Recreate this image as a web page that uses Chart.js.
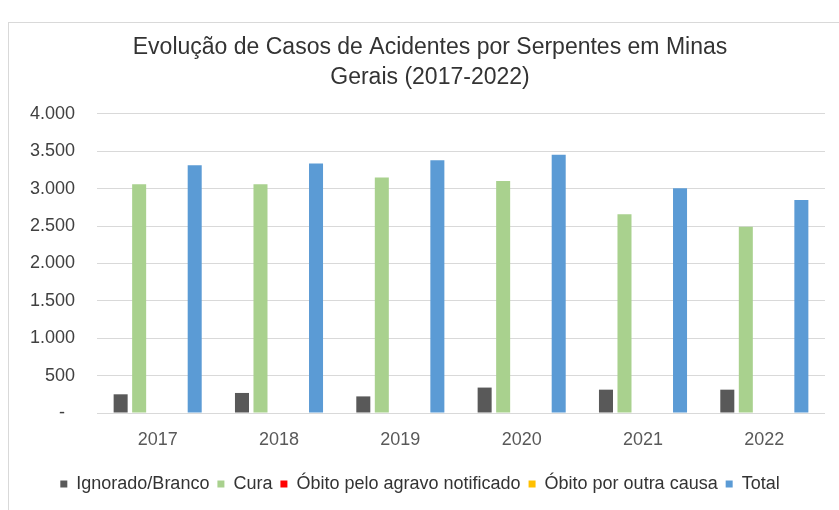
<!DOCTYPE html>
<html lang="pt-BR">
<head>
<meta charset="utf-8">
<title>Acidentes por Serpentes - MG</title>
<script src="https://cdn.jsdelivr.net/npm/chart.js@4.4.1/dist/chart.umd.min.js"></script>
<style>
    html, body { margin: 0; padding: 0; background: #fff; }
    #wrap { position: relative; width: 839px; height: 510px; overflow: hidden; }
    /* moldura do gráfico (Excel) */
    #frame { position: absolute; left: 8px; top: 22px; width: 900px; height: 600px;
             border-left: 1px solid #d9d9d9; border-top: 1px solid #d9d9d9; }
    #grafico { position: absolute; left: 0; top: 0; }
</style>
</head>
<body>
<div id="wrap">
    <div id="frame"></div>
    <canvas id="grafico" width="839" height="510"></canvas>
</div>
<script>
// Dados
const anos = ['2017', '2018', '2019', '2020', '2021', '2022'];
const ignorado = [250, 268, 222, 340, 312, 312];
const cura = [3059, 3059, 3148, 3104, 2658, 2492];
const obitoAgravo = [0, 0, 0, 0, 0, 0];   // não visíveis na escala do gráfico
const obitoOutra = [0, 0, 0, 0, 0, 0];
const total = [3313, 3335, 3380, 3452, 3006, 2850];
const ticksY = [0, 500, 1000, 1500, 2000, 2500, 3000, 3500, 4000];

// formato contábil do Excel: zero vira "-"
function formata(v) {
    if (v === 0) return '-  ';
    return String(v).replace(/\B(?=(\d{3})+(?!\d))/g, '.');
}

const fonte = "'Liberation Sans', Arial, sans-serif";

// desloca o título um pouco para a direita, como no original
const ajusteTitulo = {
    id: 'ajusteTitulo',
    afterLayout(chart) {
        chart.titleBlock.left += 10;
        chart.titleBlock.right += 10;
    }
};

new Chart(document.getElementById('grafico').getContext('2d'), {
    type: 'bar',
    data: {
        labels: anos,
        datasets: [
            { label: 'Ignorado/Branco', data: ignorado, backgroundColor: '#595959' },
            { label: 'Cura', data: cura, backgroundColor: '#a9d18e' },
            { label: 'Óbito pelo agravo notificado', data: obitoAgravo, backgroundColor: '#ff0000' },
            { label: 'Óbito por outra causa', data: obitoOutra, backgroundColor: '#ffc000' },
            { label: 'Total', data: total, backgroundColor: '#5b9bd5' }
        ]
    },
    options: {
        responsive: false,
        animation: false,
        devicePixelRatio: 1,
        categoryPercentage: 0.763,
        barPercentage: 0.757,
        layout: { padding: { top: 0, left: 15, right: 14, bottom: 7 } },
        scales: {
            x: {
                grid: { display: false, drawTicks: false },
                border: { display: false },
                ticks: { color: '#595959', padding: 16, font: { family: fonte, size: 18 } },
                afterFit: (scale) => { scale.height = 54; }
            },
            y: {
                min: 0,
                max: 4000,
                afterBuildTicks: (scale) => { scale.ticks = ticksY.map(v => ({ value: v })); },
                grid: { color: '#d9d9d9', lineWidth: 1, drawTicks: false },
                border: { display: false },
                ticks: { color: '#404040', padding: 22, font: { family: fonte, size: 18 }, callback: (v) => formata(v) },
                afterFit: (scale) => { scale.width = 82; }
            }
        },
        plugins: {
            title: {
                display: true,
                text: ['Evolução de Casos de Acidentes por Serpentes em Minas', 'Gerais (2017-2022)'],
                color: '#333333',
                font: { family: fonte, size: 23, weight: 'normal', lineHeight: 1.28 },
                padding: { top: 33, bottom: 22 }
            },
            legend: {
                position: 'bottom',
                labels: { color: '#333333', boxWidth: 7, boxHeight: 7, padding: 8, font: { family: fonte, size: 18 } }
            },
            tooltip: { enabled: false }
        }
    },
    plugins: [ajusteTitulo]
});
</script>
</body>
</html>
